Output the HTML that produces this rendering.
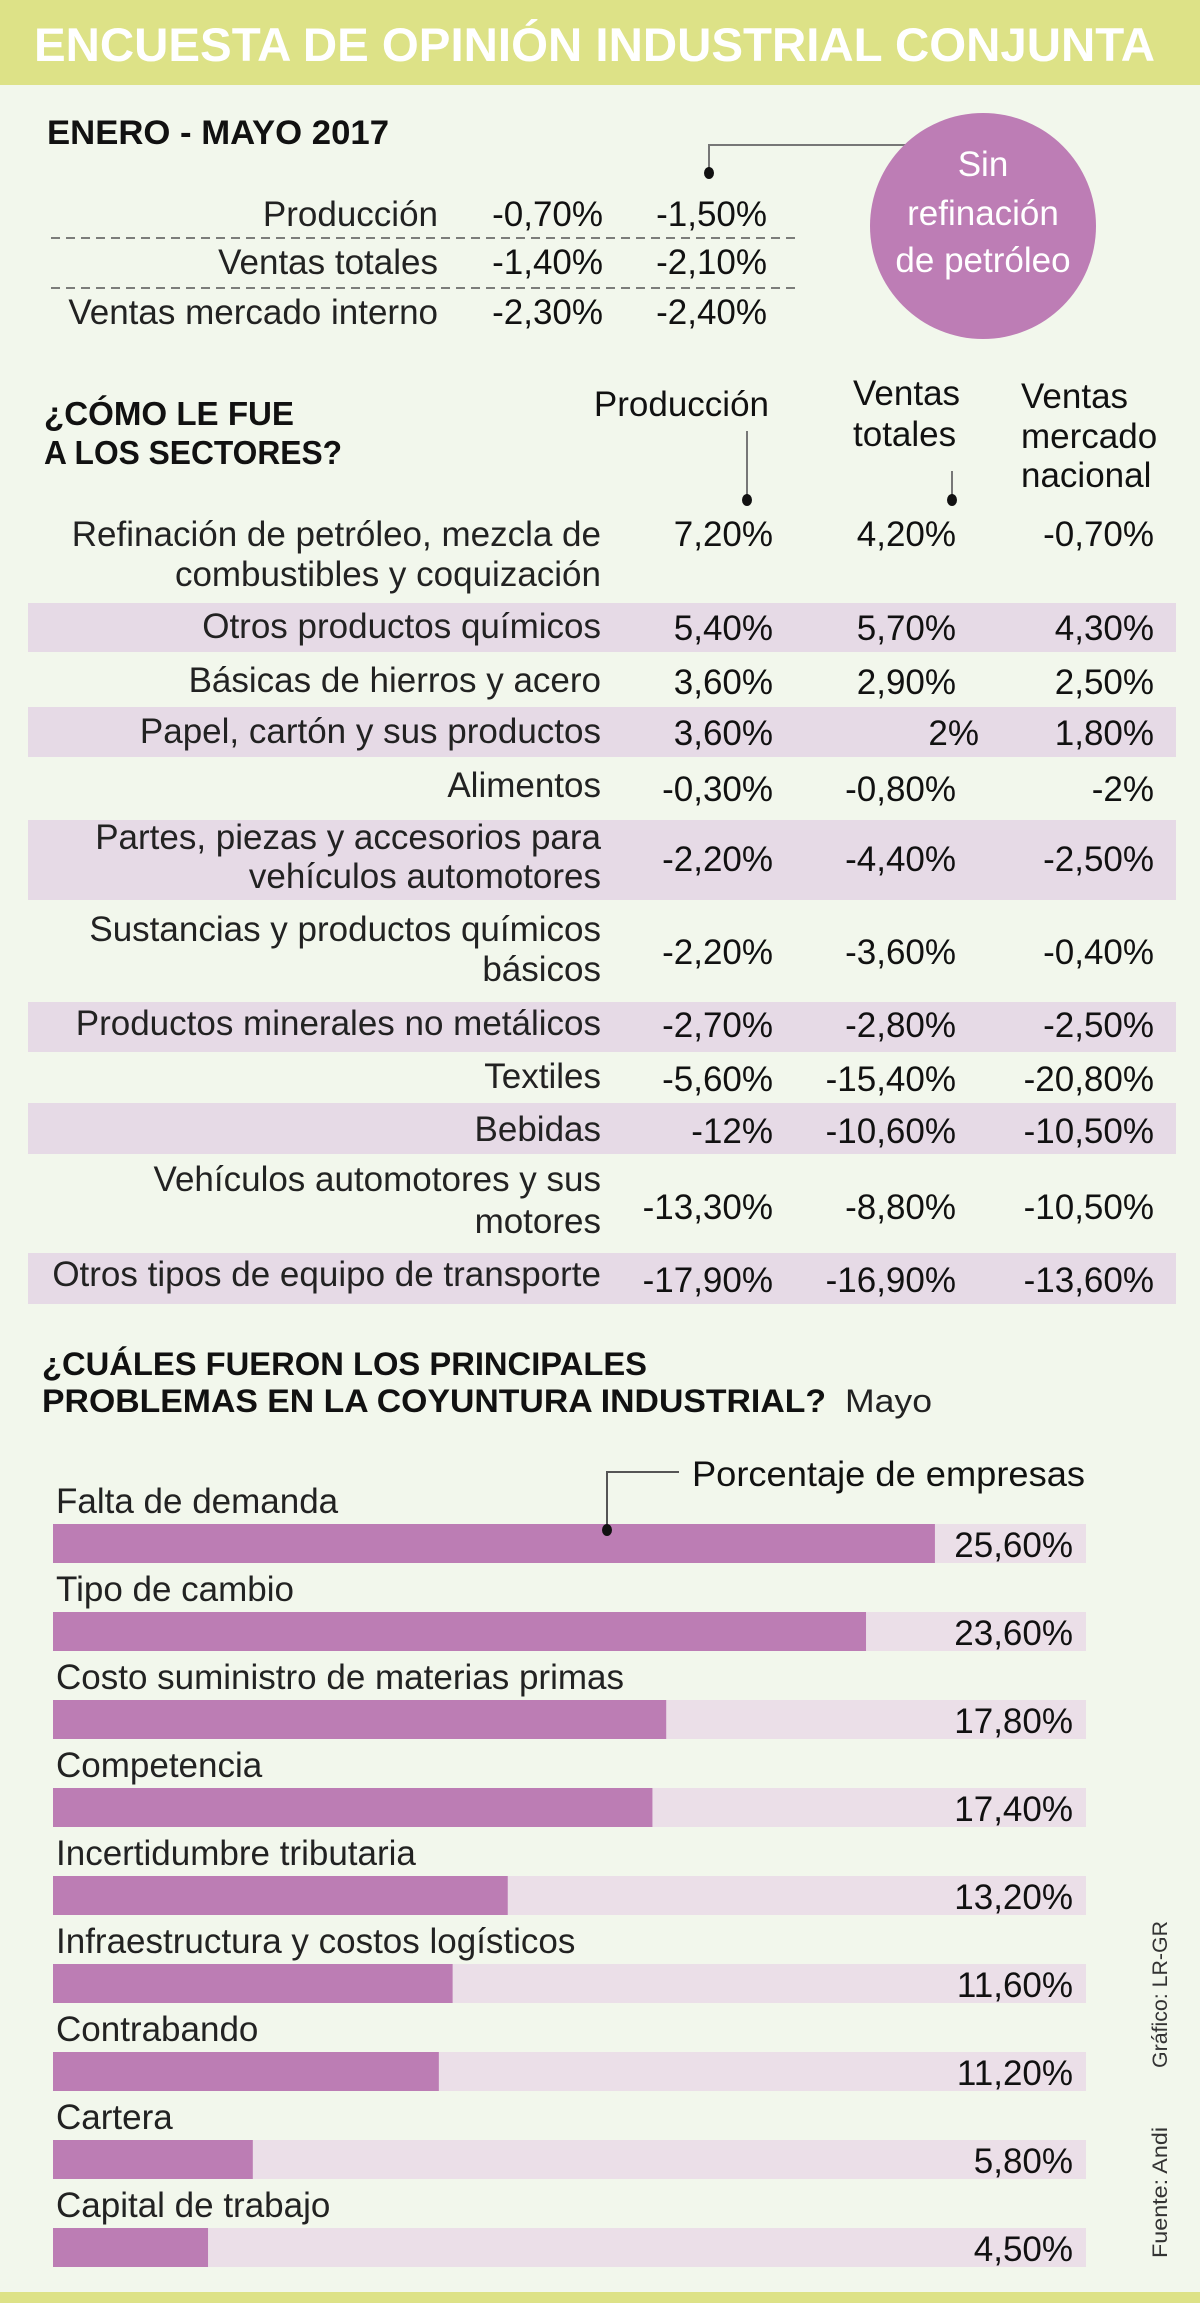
<!DOCTYPE html>
<html><head><meta charset="utf-8"><style>
html,body{margin:0;padding:0;background:#f2f7ec}
svg{display:block}
text{font-family:"Liberation Sans",sans-serif}
.b{font-weight:bold;fill:#111}
.l{fill:#222}
</style></head><body>
<svg id="chart" width="1200" height="2303" viewBox="0 0 1200 2303" xmlns="http://www.w3.org/2000/svg">
<rect x="0" y="0" width="1200" height="2303" fill="#f2f7ec"/>
<rect x="0" y="0" width="1200" height="85" fill="#dde287"/>
<text x="34" y="61" font-size="47" font-weight="bold" fill="#fff" textLength="1121" lengthAdjust="spacingAndGlyphs">ENCUESTA DE OPINIÓN INDUSTRIAL CONJUNTA</text>

<text class="b" x="47" y="144" font-size="34" textLength="342" lengthAdjust="spacingAndGlyphs">ENERO - MAYO 2017</text>
<polyline points="709,173 709,145 910,145" fill="none" stroke="#777" stroke-width="2"/>
<ellipse cx="709" cy="173" rx="5" ry="6" fill="#111"/>
<circle cx="983" cy="226" r="113" fill="#bd7db5"/>
<g fill="#fff" font-size="35" text-anchor="middle">
<text x="983" y="176">Sin</text><text x="983" y="225">refinación</text><text x="983" y="272">de petróleo</text></g>
<g id="summary"></g>
<line x1="51" y1="238" x2="796" y2="238" stroke="#555" stroke-width="1.5" stroke-dasharray="9,6"/>
<line x1="51" y1="288" x2="796" y2="288" stroke="#555" stroke-width="1.5" stroke-dasharray="9,6"/>

<text class="b" x="44" y="425" font-size="33" textLength="250" lengthAdjust="spacingAndGlyphs">¿CÓMO LE FUE</text>
<text class="b" x="44" y="464" font-size="33" textLength="298" lengthAdjust="spacingAndGlyphs">A LOS SECTORES?</text>
<g font-size="35" fill="#111">
<text x="769" y="416" text-anchor="end">Producción</text>
<text x="853" y="405">Ventas</text><text x="853" y="446">totales</text>
<text x="1021" y="408">Ventas</text><text x="1021" y="448">mercado</text><text x="1021" y="487">nacional</text></g>
<line x1="747" y1="431" x2="747" y2="498" stroke="#777" stroke-width="2"/>
<ellipse cx="747" cy="500" rx="5" ry="6" fill="#111"/>
<line x1="952" y1="471" x2="952" y2="498" stroke="#777" stroke-width="2"/>
<ellipse cx="952" cy="500" rx="5" ry="6" fill="#111"/>
<g id="sectors"></g>

<text class="b" x="42" y="1375" font-size="32" textLength="605" lengthAdjust="spacingAndGlyphs">¿CUÁLES FUERON LOS PRINCIPALES</text>
<text class="b" x="42" y="1412" font-size="32" textLength="784" lengthAdjust="spacingAndGlyphs">PROBLEMAS EN LA COYUNTURA INDUSTRIAL?</text>
<text class="l" x="845" y="1412" font-size="32" textLength="87" lengthAdjust="spacingAndGlyphs">Mayo</text>
<text x="692" y="1486" font-size="35" fill="#111" textLength="393" lengthAdjust="spacingAndGlyphs">Porcentaje de empresas</text>
<g id="bars"></g>
<polyline points="607,1528 607,1472 679,1472" fill="none" stroke="#555" stroke-width="2"/>
<ellipse cx="607" cy="1530" rx="5" ry="6" fill="#111"/>

<text transform="translate(1167,2068) rotate(-90)" font-size="21" fill="#333" textLength="147" lengthAdjust="spacingAndGlyphs">Gráfico: LR-GR</text>
<text transform="translate(1167,2258) rotate(-90)" font-size="21" fill="#333" textLength="131" lengthAdjust="spacingAndGlyphs">Fuente: Andi</text>
<rect x="0" y="2292" width="1200" height="11" fill="#dde287"/>
</svg>
<script>
const NS = "http://www.w3.org/2000/svg";
const summaryLabels = ["Producción", "Ventas totales", "Ventas mercado interno"];
const summaryTotal = ["-0,70%", "-1,40%", "-2,30%"];
const summaryNoOil = ["-1,50%", "-2,10%", "-2,40%"];

const sectorLines = [["Refinación de petróleo, mezcla de","combustibles y coquización"],["Otros productos químicos"],["Básicas de hierros y acero"],["Papel, cartón y sus productos"],["Alimentos"],["Partes, piezas y accesorios para","vehículos automotores"],["Sustancias y productos químicos","básicos"],["Productos minerales no metálicos"],["Textiles"],["Bebidas"],["Vehículos automotores y sus","motores"],["Otros tipos de equipo de transporte"]];
const sectorProd = ["7,20%","5,40%","3,60%","3,60%","-0,30%","-2,20%","-2,20%","-2,70%","-5,60%","-12%","-13,30%","-17,90%"];
const sectorVentas = ["4,20%","5,70%","2,90%","2%","-0,80%","-4,40%","-3,60%","-2,80%","-15,40%","-10,60%","-8,80%","-16,90%"];
const sectorNacional = ["-0,70%","4,30%","2,50%","1,80%","-2%","-2,50%","-0,40%","-2,50%","-20,80%","-10,50%","-10,50%","-13,60%"];

const problemCats = ["Falta de demanda","Tipo de cambio","Costo suministro de materias primas","Competencia","Incertidumbre tributaria","Infraestructura y costos logísticos","Contrabando","Cartera","Capital de trabajo"];
const problemVals = [25.6, 23.6, 17.8, 17.4, 13.2, 11.6, 11.2, 5.8, 4.5];
const problemLabels = ["25,60%","23,60%","17,80%","17,40%","13,20%","11,60%","11,20%","5,80%","4,50%"];

function mk(tag, attrs, parent, txt) {
  const e = document.createElementNS(NS, tag);
  for (const k in attrs) e.setAttribute(k, attrs[k]);
  if (txt !== undefined) e.textContent = txt;
  parent.appendChild(e);
  return e;
}

const FS = 35;
const sg = document.getElementById("summary");
const sumY = [226, 274, 324];
summaryLabels.forEach((lab, i) => {
  const t1 = mk("text", {x: 438, y: sumY[i], "font-size": FS, fill: "#222", "text-anchor": "end"}, sg, lab);
  
  
  const t2 = mk("text", {x: 603, y: sumY[i], "font-size": FS, fill: "#111", "text-anchor": "end"}, sg, summaryTotal[i]);
  
  
  const t3 = mk("text", {x: 767, y: sumY[i], "font-size": FS, fill: "#111", "text-anchor": "end"}, sg, summaryNoOil[i]);
  
  
});

const tg = document.getElementById("sectors");
const rowBand = [null,[603,652],null,[707,757],null,[820,900],null,[1002,1052],null,[1103,1154],null,[1253,1304]];
const rowLineY = [[546,586],[638],[692],[743],[797],[849,888],[941,981],[1035],[1088],[1141],[1191,1233],[1286]];
const rowValY = [546,640,694,745,801,871,964,1037,1091,1143,1219,1292];
sectorLines.forEach((lines, i) => {
  if (rowBand[i]) {
    const r = mk("rect", {x: 28, y: rowBand[i][0], width: 1148, height: rowBand[i][1]-rowBand[i][0], fill: "#e6dae6"}, tg);
    
    
  }
  lines.forEach((ln, j) => {
    const t = mk("text", {x: 601, y: rowLineY[i][j], "font-size": FS, fill: "#222", "text-anchor": "end"}, tg, ln);
    
    
  });
  const a = mk("text", {x: 773, y: rowValY[i], "font-size": FS, fill: "#111", "text-anchor": "end"}, tg, sectorProd[i]);
  
  
  const b = mk("text", {x: sectorVentas[i] === "2%" ? 979 : 956, y: rowValY[i], "font-size": FS, fill: "#111", "text-anchor": "end"}, tg, sectorVentas[i]);
  
  
  const c = mk("text", {x: 1154, y: rowValY[i], "font-size": FS, fill: "#111", "text-anchor": "end"}, tg, sectorNacional[i]);
  
  
});

const bg = document.getElementById("bars");
const x0 = 53, xEnd = 1086, pxPerUnit = 34.45;
const xScale = v => x0 + v * pxPerUnit;
const yTop = i => 1524 + i * 88;
problemCats.forEach((cat, i) => {
  const y = yTop(i);
  const lab = mk("text", {x: 56, y: y - 11, "font-size": 35, fill: "#222"}, bg, cat);
  
  
  const tr = mk("rect", {x: x0, y: y, width: xEnd - x0, height: 39, fill: "#ebdfe8"}, bg);
  
  
  const br = mk("rect", {x: x0, y: y, width: xScale(problemVals[i]) - x0, height: 39, fill: "#bc7db4"}, bg);
  
  
  const vl = mk("text", {x: 1073, y: y + 33, "font-size": 35, fill: "#111", "text-anchor": "end"}, bg, problemLabels[i]);
  
  
});
</script>
</body></html>
